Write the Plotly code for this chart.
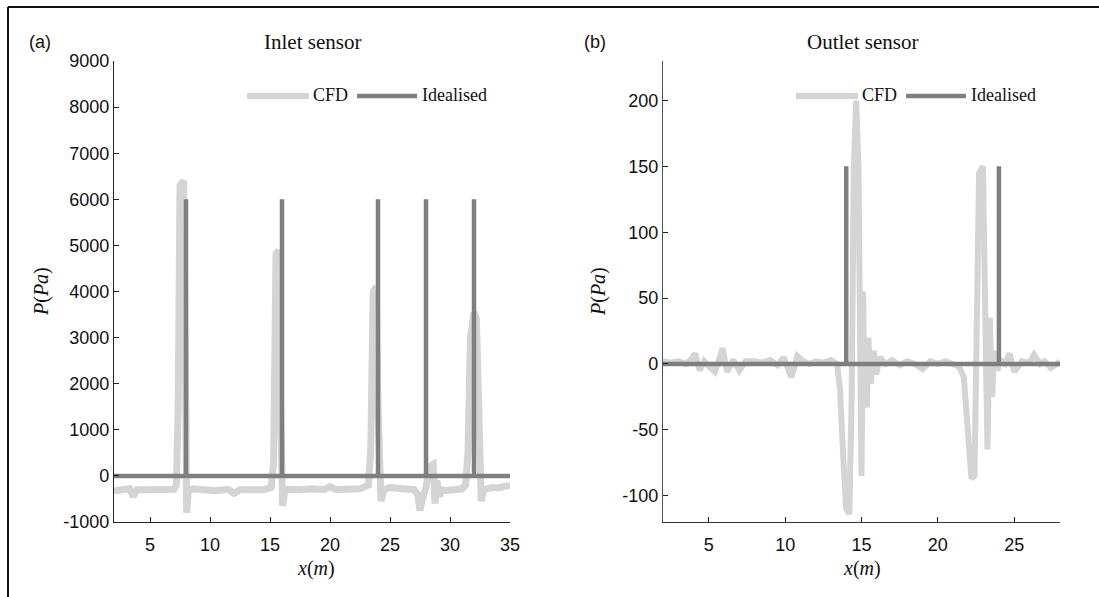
import plotly.graph_objects as go
from plotly.subplots import make_subplots

# ---- Inlet sensor (panel a) ----
inlet_x_cfd = [2.0, 2.8, 3.3, 3.6, 3.9, 4.5, 5.5, 6.5, 7.0, 7.2, 7.35, 7.5, 7.8, 7.95, 8.05,
               8.2, 8.6, 9.5, 10.5, 11.5, 12.0, 12.5, 13.5, 14.5, 15.1, 15.3, 15.5, 15.7,
               15.85, 16.05, 16.25, 16.5, 17.5, 18.5, 19.5, 20.0, 20.5, 21.5, 22.5, 23.2,
               23.4, 23.6, 23.85, 24.0, 24.25, 24.5, 25.0, 26.0, 27.0, 27.3, 27.5, 27.7,
               28.0, 28.3, 28.6, 28.75, 28.9, 29.1, 29.3, 29.6, 30.0, 30.5, 31.0, 31.3,
               31.5, 31.7, 32.0, 32.2, 32.4, 32.6, 32.8, 33.0, 33.5, 34.0, 34.5, 35.0]
inlet_y_cfd = [-320, -300, -280, -450, -300, -300, -310, -300, -290, -200, 1500, 6300, 6400,
               2500, -800, -300, -280, -300, -320, -290, -380, -300, -290, -300, -250, 300,
               4800, 4900, 2000, -650, -300, -290, -300, -280, -300, -230, -300, -290, -280,
               -200, 600, 4000, 4100, 1500, -550, -300, -250, -280, -300, -400, -750, -500,
               -250, 200, 250, -600, -100, -450, -300, -320, -300, -290, -280, -200, 500,
               3000, 3550, 3400, 1000, -550, -300, -280, -250, -260, -230, -200]

inlet_x_ideal = [2.0, 8.0, 8.0, 8.0, 16.0, 16.0, 16.0, 24.0, 24.0, 24.0, 28.0, 28.0, 28.0,
                 32.0, 32.0, 32.0, 35.0]
inlet_y_ideal = [0, 0, 6000, 0, 0, 6000, 0, 0, 6000, 0, 0, 6000, 0, 0, 6000, 0, 0]

# ---- Outlet sensor (panel b) ----
outlet_x_cfd = [2.0, 2.5, 3.0, 3.5, 3.8, 4.1, 4.4, 4.7, 5.1, 5.4, 5.7, 5.9, 6.2, 6.6, 7.0,
                7.4, 8.0, 8.5, 9.0, 9.5, 9.9, 10.1, 10.4, 10.8, 11.2, 11.6, 12.0, 12.5, 13.0,
                13.4, 13.6, 13.8, 14.0, 14.2, 14.35, 14.5, 14.65, 14.8, 14.9, 15.0, 15.1,
                15.2, 15.35, 15.45, 15.6, 15.8, 15.95, 16.2, 16.6, 17.0, 17.5, 18.0, 18.5,
                19.0, 19.5, 20.0, 20.5, 21.0, 21.4, 21.7, 22.0, 22.2, 22.4, 22.55, 22.7,
                22.95, 23.1, 23.25, 23.4, 23.55, 23.7, 23.9, 24.1, 24.4, 24.7, 25.0, 25.5,
                26.0, 26.3, 26.7, 27.0, 27.4, 27.8, 28.0]
outlet_y_cfd = [2, 1, 2, 0, 3, 8, -5, 2, -3, -6, 4, 12, -6, 3, -5, 2, 2, 1, 3, -1, 5, -2,
                -10, 6, 2, 0, 2, 1, 3, 0, -20, -70, -110, -114, -30, 150, 200, 150, -40,
                -85, 55, -20, -33, 20, -15, 10, -8, 5, 0, 3, -1, 2, 0, -4, 2, 0, 2, 0, -2,
                -10, -50, -87, -85, 20, 145, 150, 60, -65, 35, -25, 10, -5, 3, 0, 8, -6, 2,
                1, 7, 0, 2, -3, 0, 2, 4]

outlet_x_ideal = [2.0, 14.0, 14.0, 14.0, 24.0, 24.0, 24.0, 28.0]
outlet_y_ideal = [0, 0, 150, 0, 0, 150, 0, 0]

# ---- Axis ticks ----
inlet_xticks = [5, 10, 15, 20, 25, 30, 35]
inlet_yticks = [-1000, 0, 1000, 2000, 3000, 4000, 5000, 6000, 7000, 8000, 9000]
outlet_xticks = [5, 10, 15, 20, 25]
outlet_yticks = [-100, -50, 0, 50, 100, 150, 200]

CFD_COLOR = "#d4d4d4"
IDEAL_COLOR = "#7f7f7f"
SERIF = "Liberation Serif, DejaVu Serif, serif"
SANS = "Liberation Sans, Arial, sans-serif"

W, H = 1099, 597

fig = make_subplots(rows=1, cols=2)

fig.add_trace(go.Scatter(x=inlet_x_cfd, y=inlet_y_cfd, mode="lines",
                         line=dict(color=CFD_COLOR, width=7), name="CFD"), row=1, col=1)
fig.add_trace(go.Scatter(x=inlet_x_ideal, y=inlet_y_ideal, mode="lines",
                         line=dict(color=IDEAL_COLOR, width=4.5), name="Idealised"), row=1, col=1)
fig.add_trace(go.Scatter(x=outlet_x_cfd, y=outlet_y_cfd, mode="lines",
                         line=dict(color=CFD_COLOR, width=6), name="CFD"), row=1, col=2)
fig.add_trace(go.Scatter(x=outlet_x_ideal, y=outlet_y_ideal, mode="lines",
                         line=dict(color=IDEAL_COLOR, width=4.5), name="Idealised"), row=1, col=2)


def px(x):
    return x / W


def py(y):
    return 1 - y / H


axis_common = dict(showline=True, linewidth=1.3, ticks="inside", automargin=False,
                   ticklen=5, tickwidth=1.2, tickcolor="#222", showgrid=False,
                   zeroline=False, mirror=False,
                   tickfont=dict(family=SANS, size=18, color="#111"))

fig.update_xaxes(domain=[px(114), px(510)], range=[2, 35], tickvals=inlet_xticks,
                 ticktext=[str(v) for v in inlet_xticks], linecolor="#222",
                 ticklabelstandoff=6, row=1, col=1, **axis_common)
fig.update_yaxes(domain=[py(522), py(61)], range=[-1000, 9000], tickvals=inlet_yticks,
                 ticktext=[str(v) for v in inlet_yticks], linecolor="#222",
                 row=1, col=1, **axis_common)
fig.update_xaxes(domain=[px(663), px(1060)], range=[2, 28], tickvals=outlet_xticks,
                 ticktext=[str(v) for v in outlet_xticks], linecolor="#333",
                 ticklabelstandoff=6, row=1, col=2, **axis_common)
fig.update_yaxes(domain=[py(522), py(61)], range=[-120, 230], tickvals=outlet_yticks,
                 ticktext=[str(v) for v in outlet_yticks], linecolor="#555",
                 row=1, col=2, **axis_common)

annotations = []
shapes = []

# panel labels and titles
for label, lx, title, tx in [("(a)", 27, "Inlet sensor", 312), ("(b)", 582, "Outlet sensor", 862)]:
    annotations.append(dict(x=px(lx), y=py(42), xref="paper", yref="paper", text=label,
                            showarrow=False, xanchor="left", yanchor="middle",
                            font=dict(family=SANS, size=18, color="#111")))
    annotations.append(dict(x=px(tx), y=py(42), xref="paper", yref="paper", text=title,
                            showarrow=False, xanchor="center", yanchor="middle",
                            font=dict(family=SERIF, size=21, color="#111")))

# axis titles
for cx, ycx in [(316, 41), (862, 598)]:
    annotations.append(dict(x=px(cx), y=py(568), xref="paper", yref="paper",
                            text="<i>x</i>(<i>m</i>)", showarrow=False,
                            xanchor="center", yanchor="middle",
                            font=dict(family=SERIF, size=20, color="#111")))
    annotations.append(dict(x=px(ycx), y=py(292), xref="paper", yref="paper",
                            text="<i>P</i>(<i>Pa</i>)", showarrow=False, textangle=-90,
                            xanchor="center", yanchor="middle",
                            font=dict(family=SERIF, size=20, color="#111")))

# legends
for x0 in [247, 796]:
    shapes.append(dict(type="line", xref="paper", yref="paper", x0=px(x0), x1=px(x0 + 62),
                       y0=py(96), y1=py(96), line=dict(color=CFD_COLOR, width=6)))
    annotations.append(dict(x=px(x0 + 64), y=py(95), xref="paper", yref="paper", text="CFD",
                            showarrow=False, xanchor="left", yanchor="middle",
                            font=dict(family=SERIF, size=18, color="#111")))
    shapes.append(dict(type="line", xref="paper", yref="paper", x0=px(x0 + 110),
                       x1=px(x0 + 170), y0=py(96), y1=py(96),
                       line=dict(color=IDEAL_COLOR, width=4.5)))
    annotations.append(dict(x=px(x0 + 173), y=py(95), xref="paper", yref="paper",
                            text="Idealised", showarrow=False, xanchor="left",
                            yanchor="middle", font=dict(family=SERIF, size=18, color="#111")))

# outer frame (left and top edges)
shapes.append(dict(type="line", xref="paper", yref="paper", x0=px(8), x1=px(8),
                   y0=0, y1=py(7), line=dict(color="#111", width=2)))
shapes.append(dict(type="line", xref="paper", yref="paper", x0=px(8), x1=1,
                   y0=py(7), y1=py(7), line=dict(color="#111", width=2)))

fig.update_layout(width=W, height=H, margin=dict(l=0, r=0, t=0, b=0),
                  plot_bgcolor="white", paper_bgcolor="white", showlegend=False,
                  annotations=annotations, shapes=shapes)

fig.write_html("out.html")
